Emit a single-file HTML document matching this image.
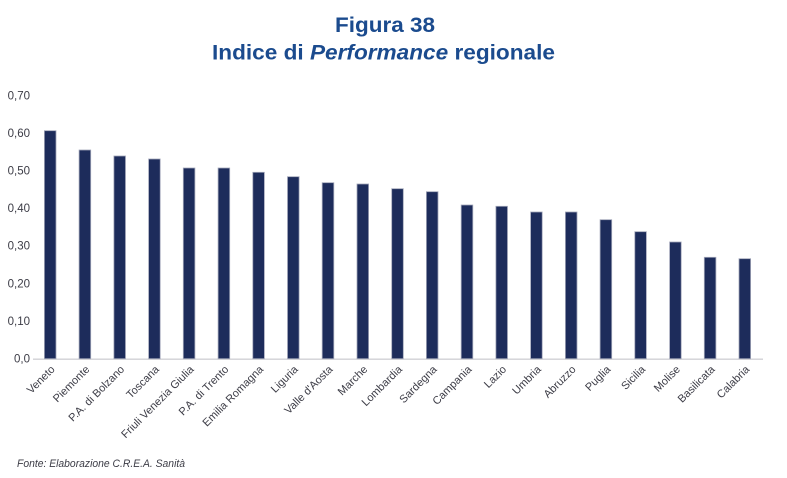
<!DOCTYPE html>
<html>
<head>
<meta charset="utf-8">
<style>
  html, body { margin: 0; padding: 0; background: #ffffff; }
  body { width: 787px; height: 478px; overflow: hidden; }
  svg { display: block; }
</style>
</head>
<body>
<svg width="787" height="478" viewBox="0 0 787 478" xmlns="http://www.w3.org/2000/svg">
  <rect x="0" y="0" width="787" height="478" fill="#ffffff"/>
  <!-- Title -->
  <text x="385" y="32" text-anchor="middle" font-family="Liberation Sans, Arial, sans-serif" font-weight="bold" font-size="21.5" fill="#1b4b8e" textLength="100" lengthAdjust="spacingAndGlyphs">Figura 38</text>
  <text x="383.5" y="59.5" text-anchor="middle" font-family="Liberation Sans, Arial, sans-serif" font-weight="bold" font-size="21" fill="#1b4b8e" textLength="343" lengthAdjust="spacingAndGlyphs">Indice di <tspan font-style="italic">Performance</tspan> regionale</text>

  <!-- Y axis labels -->
  <g font-family="Liberation Sans, Arial, sans-serif" font-size="11.5" fill="#3c3c46" text-anchor="end">
    <text x="30" y="362.5">0,0</text>
    <text x="30" y="324.9">0,10</text>
    <text x="30" y="287.3">0,20</text>
    <text x="30" y="249.7">0,30</text>
    <text x="30" y="212.1">0,40</text>
    <text x="30" y="174.5">0,50</text>
    <text x="30" y="136.9">0,60</text>
    <text x="30" y="99.3">0,70</text>
  </g>

  <!-- Axis line -->
  <line x1="33" y1="359.2" x2="763" y2="359.2" stroke="#d0d0d4" stroke-width="1.3"/>

  <!-- Bars -->
  <g fill="#1d2c5b" stroke="#a3a7ba" stroke-width="0.8">
    <rect x="44.4" y="130.7" width="11.6" height="228"/>
    <rect x="79.1" y="150" width="11.6" height="208.7"/>
    <rect x="113.9" y="156" width="11.6" height="202.7"/>
    <rect x="148.6" y="159" width="11.6" height="199.7"/>
    <rect x="183.3" y="168" width="11.6" height="190.7"/>
    <rect x="218.1" y="168" width="11.6" height="190.7"/>
    <rect x="252.8" y="172.3" width="11.6" height="186.4"/>
    <rect x="287.5" y="176.7" width="11.6" height="182"/>
    <rect x="322.2" y="182.7" width="11.6" height="176"/>
    <rect x="357.0" y="184" width="11.6" height="174.7"/>
    <rect x="391.7" y="188.7" width="11.6" height="170"/>
    <rect x="426.4" y="191.7" width="11.6" height="167"/>
    <rect x="461.2" y="205" width="11.6" height="153.7"/>
    <rect x="495.9" y="206.3" width="11.6" height="152.4"/>
    <rect x="530.6" y="212" width="11.6" height="146.7"/>
    <rect x="565.4" y="212" width="11.6" height="146.7"/>
    <rect x="600.1" y="219.7" width="11.6" height="139"/>
    <rect x="634.8" y="231.7" width="11.6" height="127"/>
    <rect x="669.6" y="242" width="11.6" height="116.7"/>
    <rect x="704.3" y="257.3" width="11.6" height="101.4"/>
    <rect x="739.0" y="258.7" width="11.6" height="100"/>
  </g>

  <!-- X labels -->
  <g font-family="Liberation Sans, Arial, sans-serif" font-size="11" fill="#3c3c46" text-anchor="end">
    <text transform="translate(55.5,370) rotate(-45)">Veneto</text>
    <text transform="translate(90.2,370) rotate(-45)">Piemonte</text>
    <text transform="translate(125.0,370) rotate(-45)">P.A. di Bolzano</text>
    <text transform="translate(159.7,370) rotate(-45)">Toscana</text>
    <text transform="translate(194.4,370) rotate(-45)">Friuli Venezia Giulia</text>
    <text transform="translate(229.2,370) rotate(-45)">P.A. di Trento</text>
    <text transform="translate(263.9,370) rotate(-45)">Emilia Romagna</text>
    <text transform="translate(298.6,370) rotate(-45)">Liguria</text>
    <text transform="translate(333.3,370) rotate(-45)">Valle d'Aosta</text>
    <text transform="translate(368.1,370) rotate(-45)">Marche</text>
    <text transform="translate(402.8,370) rotate(-45)">Lombardia</text>
    <text transform="translate(437.5,370) rotate(-45)">Sardegna</text>
    <text transform="translate(472.3,370) rotate(-45)">Campania</text>
    <text transform="translate(507.0,370) rotate(-45)">Lazio</text>
    <text transform="translate(541.7,370) rotate(-45)">Umbria</text>
    <text transform="translate(576.5,370) rotate(-45)">Abruzzo</text>
    <text transform="translate(611.2,370) rotate(-45)">Puglia</text>
    <text transform="translate(645.9,370) rotate(-45)">Sicilia</text>
    <text transform="translate(680.7,370) rotate(-45)">Molise</text>
    <text transform="translate(715.4,370) rotate(-45)">Basilicata</text>
    <text transform="translate(750.1,370) rotate(-45)">Calabria</text>
  </g>

  <!-- Source -->
  <text x="17" y="467" font-family="Liberation Sans, Arial, sans-serif" font-style="italic" font-size="11" fill="#3c3c46" textLength="168" lengthAdjust="spacingAndGlyphs">Fonte: Elaborazione C.R.E.A. Sanità</text>
</svg>
</body>
</html>
